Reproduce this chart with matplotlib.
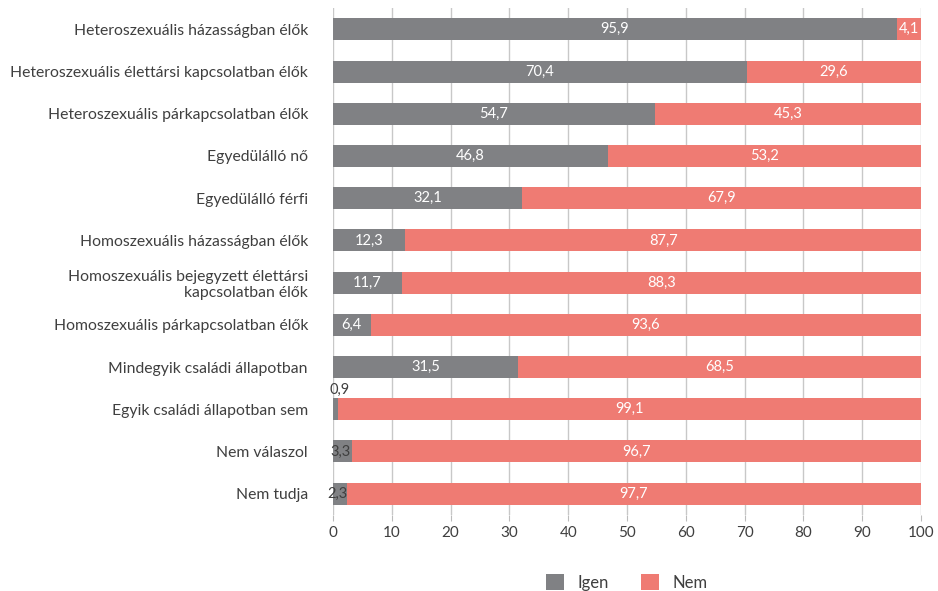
import matplotlib.pyplot as plt
import numpy as np

plt.rcParams['font.family'] = ['Lato', 'DejaVu Sans']

# adatok
kategoriak = ['Heteroszexuális házasságban élők',
              'Heteroszexuális élettársi kapcsolatban élők',
              'Heteroszexuális párkapcsolatban élők',
              'Egyedülálló nő',
              'Egyedülálló férfi',
              'Homoszexuális házasságban élők',
              'Homoszexuális bejegyzett élettársi\nkapcsolatban élők',
              'Homoszexuális párkapcsolatban élők',
              'Mindegyik családi állapotban',
              'Egyik családi állapotban sem',
              'Nem válaszol',
              'Nem tudja']
igen = [95.9, 70.4, 54.7, 46.8, 32.1, 12.3, 11.7, 6.4, 31.5, 0.9, 3.3, 2.3]
nem = [4.1, 29.6, 45.3, 53.2, 67.9, 87.7, 88.3, 93.6, 68.5, 99.1, 96.7, 97.7]

szurke = '#808184'
piros = '#ef7b73'
szoveg = '#3f3f3f'

fig = plt.figure(figsize=(9.38, 5.91), dpi=100)
ax = fig.add_axes([0.355, 0.129, 0.627, 0.857])

y = np.arange(len(kategoriak))
ax.barh(y, igen, height=0.52, color=szurke, label='Igen', zorder=3)
ax.barh(y, nem, left=igen, height=0.52, color=piros, label='Nem', zorder=3)

def fmt(v):
    return ('%.1f' % v).replace('.', ',')

for i in range(len(y)):
    a = igen[i]
    b = nem[i]
    if a >= 5:
        ax.text(a / 2, i, fmt(a), ha='center', va='center', color='white', fontsize=10.5, zorder=4)
    elif a < 1:
        ax.text(a / 2 + 0.6, i - 0.45, fmt(a), ha='center', va='center', color=szoveg, fontsize=10.5, zorder=4)
    else:
        ax.text(a / 2 - 0.4, i, fmt(a), ha='center', va='center', color=szoveg, fontsize=10.5, zorder=4)
    ax.text(a + b / 2, i, fmt(b), ha='center', va='center', color='white', fontsize=10.5, zorder=4)

ax.set_xlim(0, 100)
ax.set_ylim(11.5, -0.5)
ax.set_xticks(np.arange(0, 101, 10))
ax.set_yticks(y)
ax.set_yticklabels(kategoriak, fontsize=11.3, color=szoveg)
ax.tick_params(axis='y', length=0, pad=18)
ax.tick_params(axis='x', length=4, color='#bbbbbb', labelsize=11, labelcolor=szoveg, pad=4)
ax.grid(axis='x', color='#c8c8c8', linewidth=1, zorder=0)
for s in ax.spines.values():
    s.set_visible(False)

fig.legend(loc='lower center', bbox_to_anchor=(0.668, -0.025), ncol=2, frameon=False,
           handlelength=1.1, handleheight=1.1, columnspacing=1.9, fontsize=12,
           labelcolor=szoveg)

plt.savefig('out.png', dpi=100)
